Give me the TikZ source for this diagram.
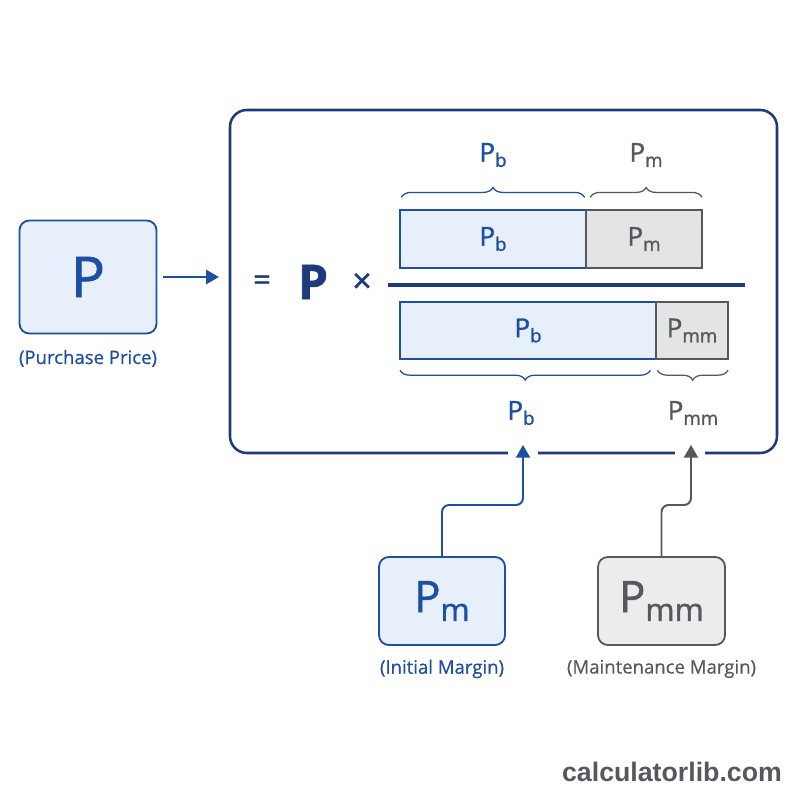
\documentclass[tikz,border=0pt]{standalone}
\usepackage{fontspec}
\usepackage{graphicx}
\setmainfont{Open Sans}[FakeBold=1.3]
\newfontfamily\capfont{Open Sans}[FakeBold=0.5]
\newfontfamily\wmfont{Liberation Sans}
\usetikzlibrary{positioning,calc,arrows.meta,decorations.pathreplacing}
\definecolor{navy}{HTML}{1D3A7C}
\definecolor{mblue}{HTML}{1F4FA3}
\definecolor{lblue}{HTML}{E7EFFB}
\definecolor{dgray}{HTML}{55585E}
\definecolor{lgray}{HTML}{E4E4E4}
\def\px{0.025cm}
\newcommand{\ix}[1]{\raisebox{-0.2em}{\scalebox{0.72}{#1}}}
\tikzstyle{bluebox}=[draw=mblue, fill=lblue, line width=1.3pt,
    rounded corners=7pt, text=mblue]
\tikzstyle{graybox}=[draw=dgray, fill=lgray!70, line width=1.3pt,
    rounded corners=7pt, text=dgray]
\tikzstyle{bar}=[draw, line width=0.9pt, outer sep=0pt, inner sep=0pt,
    minimum height=58*\px, font=\fontsize{18.5}{18.5}\selectfont]
\tikzstyle{bbar}=[bar, draw=mblue, fill=lblue, text=mblue]
\tikzstyle{gbar}=[bar, draw=dgray, fill=lgray, text=dgray]
\tikzstyle{caption}=[font=\capfont\fontsize{13.2}{15}\selectfont]
\tikzstyle{lab}=[font=\fontsize{18.5}{18.5}\selectfont]
\tikzstyle{brc}=[decorate, decoration={brace, amplitude=7pt}, line width=0.9pt]
\tikzstyle{link}=[line width=1.4pt, rounded corners=5pt,
    -{Triangle[length=9pt,width=10pt]}]

\begin{document}
\begin{tikzpicture}[x=\px, y=-\px]
    \fill[white] (0,0) rectangle (800,800);
    \useasboundingbox (0,0) rectangle (800,800);
    % purchase price
    \node (p) [bluebox, minimum width=137*\px, minimum height=113*\px,
        font=\fontsize{40}{40}\selectfont] at (88,277) {P};
    \path (p.south)+(0,24) node (pcap) [caption, text=mblue] {(Purchase Price)};
    \node (frame) [draw=navy, line width=1.8pt, rounded corners=12pt,
        minimum width=547*\px, minimum height=343*\px] at (503.5,281.5) {};
    \draw[link, mblue, shorten <=4pt, shorten >=7pt] (p) -- (frame.west |- p);
    % formula
    \node (eq) [text=navy, font=\fontsize{22}{22}\selectfont] at (262,283) {=};
    \node (pf) [text=navy, font=\fontsize{34}{34}\selectfont\bfseries] at (313,282) {P};
    \node (times) [text=navy, font=\fontsize{24}{24}\selectfont] at (362,283) {×};
    \draw[navy, line width=2.2pt] (388,285) -- (745,285);
    % numerator
    \node (pbT) [bbar, minimum width=186*\px] at (493,239) {P\ix{b}};
    \node (pmT) [gbar, minimum width=116*\px, right=0pt of pbT] {P\ix{m}};
    \draw[brc, mblue] ([xshift=1pt,yshift=9pt]pbT.north west)
        -- ([xshift=-1pt,yshift=9pt]pbT.north east);
    \draw[brc, dgray] ([xshift=3pt,yshift=9pt]pmT.north west)
        -- ([xshift=0pt,yshift=9pt]pmT.north east);
    \path (pbT.north)+(0,-55) node (pbLab) [lab, text=mblue] {P\ix{b}};
    \path (pmT.north)+(2,-55) node (pmLab) [lab, text=dgray] {P\ix{m}};
    % denominator
    \node (pbB) [bbar, minimum width=256*\px, minimum height=57*\px] at (528,330.5) {P\ix{b}};
    \node (pmmB) [gbar, minimum width=72*\px, minimum height=57*\px,
        right=0pt of pbB] {P\ix{mm}};
    \draw[brc, mblue] ([xshift=-4pt,yshift=-8pt]pbB.south east)
        -- ([xshift=0pt,yshift=-8pt]pbB.south west);
    \draw[brc, dgray] ([xshift=0pt,yshift=-8pt]pmmB.south east)
        -- ([xshift=1pt,yshift=-8pt]pmmB.south west);
    \path (pbB.south)+(-7,54) node (pbBLab) [lab, text=mblue] {P\ix{b}};
    \path (pmmB.south)+(1,54) node (pmmLab) [lab, text=dgray] {P\ix{mm}};
    % margins
    \node (pm) [bluebox, minimum width=126*\px, minimum height=88*\px,
        font=\fontsize{31}{31}\selectfont] at (442,601) {P\ix{m}};
    \path (pm.south)+(0,23) node (pmcap) [caption, text=mblue] {(Initial Margin)};
    \node (pmm) [graybox, minimum width=127*\px, minimum height=88*\px,
        font=\fontsize{31}{31}\selectfont] at (661.5,601) {P\ix{mm}};
    \path (pmm.south)+(0,23) node (pmmcap) [caption, text=dgray] {(Maintenance Margin)};
    \coordinate (pbIn) at (523,445);
    \coordinate (pmmIn) at (691,445);
    \fill[white] (508,446) rectangle (538,460);
    \fill[white] (675,446) rectangle (705,460);
    \draw[link, mblue] (pm.north) |- ($(pbIn)+(0,60)$) -- (pbIn);
    \draw[link, dgray] (pmm.north) |- ($(pmmIn)+(0,60)$) -- (pmmIn);
    \node (wm) [font=\wmfont\bfseries\fontsize{19}{19}\selectfont,
        text=dgray] at (672,772) {calculatorlib.com};
\end{tikzpicture}
\end{document}
